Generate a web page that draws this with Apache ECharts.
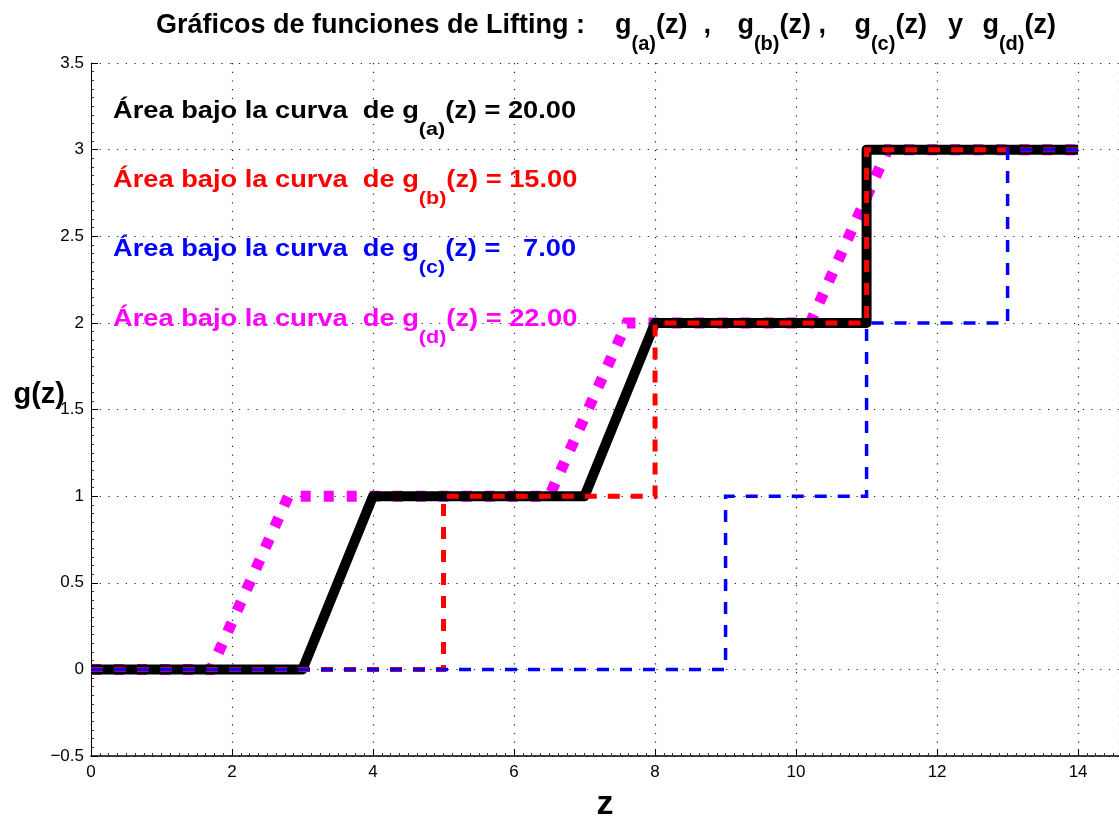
<!DOCTYPE html>
<html>
<head>
<meta charset="utf-8">
<script src="https://cdn.jsdelivr.net/npm/echarts@6/dist/echarts.min.js"></script>
<style>
  html, body { margin: 0; padding: 0; background: #fff; }
  #chart { width: 1119px; height: 818px; }
</style>
</head>
<body>
<div id="chart"></div>
<script>
// Lifting functions g(z): breakpoints (z) and levels (g) of each curve
const zA = [0, 3, 4, 7, 8, 11, 11, 14];
const gA = [0, 0, 1, 1, 2, 2, 3, 3];
const zB = [0, 5, 5, 8, 8, 11, 11, 14];
const gB = [0, 0, 1, 1, 2, 2, 3, 3];
const zC = [0, 9, 9, 11, 11, 13, 13, 14];
const gC = [0, 0, 1, 1, 2, 2, 3, 3];
const zD = [0, 1.7, 2.8, 6.5, 7.6, 10.2, 11.3, 14];
const gD = [0, 0, 1, 1, 2, 2, 3, 3];

// Area under each curve, as annotated
const curveKeys = ['a', 'b', 'c', 'd'];
const areas = [20.00, 15.00, 7.00, 22.00];
const areaColors = ['#000000', '#ff0000', '#0000ff', '#ff00ff'];

const xTicks = [0, 2, 4, 6, 8, 10, 12, 14];

const FONT = '"Liberation Sans", Arial, Helvetica, sans-serif';

function pairs(xs, ys) { return xs.map((x, i) => [x, ys[i]]); }

const chart = echarts.init(document.getElementById('chart'), null, { renderer: 'canvas' });

// annotation lines "Área bajo la curva de g_(k)(z) = value"
const annotTops = [96, 165, 234, 304];
const annotations = curveKeys.map((k, i) => {
  const val = areas[i].toFixed(2);
  const pad = (i === 2) ? '   ' : ' ';
  return {
    type: 'text',
    left: 113,
    top: annotTops[i],
    scaleX: 1.135,
    z: 100,
    style: {
      text: 'Área bajo la curva  de g{s|(' + k + ')}(z) =' + pad + val,
      fill: areaColors[i],
      fontFamily: FONT,
      fontWeight: 'bold',
      fontSize: 24,
      lineHeight: 30,
      rich: {
        s: { fontFamily: FONT, fontWeight: 'bold', fontSize: 19, padding: [38, 0, 0, 0] }
      }
    }
  };
});

// horizontal gaps inside the title line
const gap = w => ({ width: w, fontSize: 27, lineHeight: 32 });

const option = {
  backgroundColor: '#ffffff',
  animation: false,
  title: {
    left: 151,
    top: 5,
    text: 'Gráficos de funciones de Lifting :{s1| }g{s|(a)}(z){s2| },{s3| }g{s|(b)}(z){s4| },{s5| }g{s|(c)}(z){s6| }y{s7| }g{s|(d)}(z)',
    textStyle: {
      fontFamily: FONT,
      fontWeight: 'bold',
      fontSize: 27,
      lineHeight: 32,
      color: '#000',
      rich: {
        s: { fontFamily: FONT, fontWeight: 'bold', fontSize: 20, color: '#000', padding: [36, 0, 0, 0] },
        s1: gap(30), s2: gap(16), s3: gap(26.5), s4: gap(7.5),
        s5: gap(28.5), s6: gap(21), s7: gap(19.5)
      }
    }
  },
  grid: { left: 91, right: 0, top: 63, bottom: 62, containLabel: false, outerBoundsMode: 'none' },
  xAxis: {
    type: 'value',
    min: 0,
    max: 14.58,
    interval: 2,
    name: 'z',
    nameLocation: 'middle',
    nameGap: 32,
    nameMoveOverlap: false,
    nameTextStyle: { fontFamily: FONT, fontWeight: 'bold', fontSize: 34, color: '#000' },
    axisLine: { show: true, onZero: false, lineStyle: { color: '#000', width: 1.5 } },
    axisTick: { show: true, inside: true, length: 7, lineStyle: { color: '#000' } },
    minorTick: { show: true, splitNumber: 16, length: 3, lineStyle: { color: '#333' } },
    axisLabel: {
      margin: 8,
      fontFamily: FONT,
      fontSize: 17,
      color: '#000',
      showMaxLabel: false,
      formatter: v => (xTicks.indexOf(v) >= 0 ? String(v) : '')
    },
    splitLine: { show: true, lineStyle: { color: '#222', width: 1.2, type: [1.2, 7.5] } }
  },
  yAxis: {
    type: 'value',
    min: -0.5,
    max: 3.5,
    interval: 0.5,
    name: 'g(z)',
    nameLocation: 'middle',
    nameRotate: 0,
    nameGap: 26,
    nameMoveOverlap: false,
    nameTextStyle: { fontFamily: FONT, fontWeight: 'bold', fontSize: 29, color: '#000', verticalAlign: 'bottom' },
    axisLine: { show: true, onZero: false, lineStyle: { color: '#000', width: 1 } },
    axisTick: { show: true, inside: true, length: 7, lineStyle: { color: '#000' } },
    minorTick: { show: true, splitNumber: 10, length: 3, lineStyle: { color: '#333' } },
    axisLabel: {
      margin: 7,
      fontFamily: FONT,
      fontSize: 17,
      color: '#000',
      formatter: v => (v < 0 ? '\u2212' + Math.abs(v) : String(v))
    },
    splitLine: { show: true, lineStyle: { color: '#222', width: 1.2, type: [1.2, 7.5] } }
  },
  series: [
    {
      name: 'g(d)', type: 'line', data: pairs(zD, gD), symbol: 'none', z: 2,
      lineStyle: { color: '#ff00ff', width: 11, type: [10, 13], cap: 'butt', join: 'miter' }
    },
    {
      name: 'g(a)', type: 'line', data: pairs(zA, gA), symbol: 'none', z: 3,
      lineStyle: { color: '#000000', width: 10, type: 'solid', cap: 'butt', join: 'round' }
    },
    {
      name: 'g(b)', type: 'line', data: pairs(zB, gB), symbol: 'none', z: 4,
      lineStyle: { color: '#ff0000', width: 5, type: [12, 11], cap: 'butt', join: 'miter' }
    },
    {
      name: 'g(c)', type: 'line', data: pairs(zC, gC), symbol: 'none', z: 5,
      lineStyle: { color: '#0000ff', width: 3.5, type: [12, 11], cap: 'butt', join: 'miter' }
    }
  ],
  graphic: annotations
};

chart.setOption(option);
</script>
</body>
</html>
